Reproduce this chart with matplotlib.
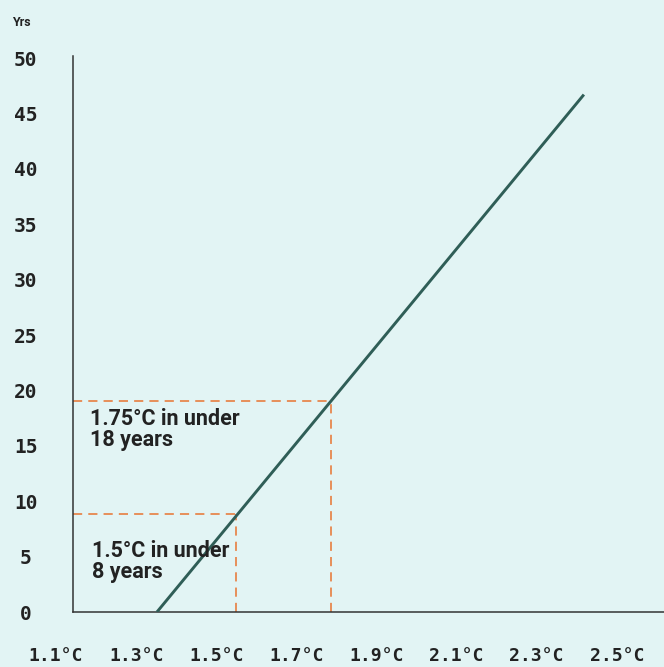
import matplotlib
matplotlib.use("Agg")
from matplotlib import pyplot as plt

# warming (°C) vs years
line_temp = [1.352, 2.418]
line_years = [0.0, 46.7]

# marked points for the two thresholds
mark_temp = [1.549, 1.786]
mark_years = [8.8, 19.0]
mark_text = ["1.5°C in under\n8 years", "1.75°C in under\n18 years"]

x_ticks = [1.1, 1.3, 1.5, 1.7, 1.9, 2.1, 2.3, 2.5]
x_labels = ["1.1°C", "1.3°C", "1.5°C", "1.7°C", "1.9°C", "2.1°C", "2.3°C", "2.5°C"]
y_ticks = [0, 5, 10, 15, 20, 25, 30, 35, 40, 45, 50]

bg = "#e2f4f4"
line_c = "#2f5e57"
dash_c = "#e8742f"
text_c = "#222222"
x_axis0 = 1.1424  # where the vertical axis sits
ann_font = "Roboto"

fig = plt.figure(figsize=(6.64, 6.67), dpi=100, facecolor=bg)
ax = fig.add_axes([40 / 664, 55 / 667, 624 / 664, 556.2 / 667])
ax.set_facecolor(bg)
ax.set_xlim(1.060, 2.618)
ax.set_ylim(0, 50.2)

ax.plot(line_temp, line_years, color=line_c, lw=2.1, solid_capstyle="butt", zorder=3)

# dashed guides
for t, y in zip(mark_temp, mark_years):
    ax.plot([x_axis0, t], [y, y], color=dash_c, lw=1.1, dashes=(6, 4), zorder=2)
    ax.plot([t, t], [0, y], color=dash_c, lw=1.1, dashes=(6, 4), zorder=2)

ax.text(1.19, 6.5, mark_text[0], fontsize=15.5, family=ann_font, weight="bold",
        color=text_c, va="top", ha="left", linespacing=0.95, zorder=4)
ax.text(1.185, 18.4, mark_text[1], fontsize=15.5, family=ann_font, weight="bold",
        color=text_c, va="top", ha="left", linespacing=0.95, zorder=4)

# axes styling
for s in ["top", "right"]:
    ax.spines[s].set_visible(False)
ax.spines["left"].set_position(("data", x_axis0))
ax.spines["left"].set_color("#333333")
ax.spines["bottom"].set_color("#333333")
ax.spines["left"].set_linewidth(1.1)
ax.spines["bottom"].set_linewidth(1.1)
ax.spines["bottom"].set_bounds(x_axis0, 2.618)

ax.set_xticks(x_ticks)
ax.set_xticklabels(x_labels, family="DejaVu Sans Mono", weight="bold",
                   fontsize=13, color=text_c)
ax.set_yticks(y_ticks)
ax.set_yticklabels([str(v) for v in y_ticks], family="DejaVu Sans Mono",
                   weight="bold", fontsize=14, color=text_c)
for lbl in ax.get_yticklabels():
    lbl.set_ha("center")
ax.tick_params(axis="x", length=0, pad=25)
ax.tick_params(axis="y", length=0, pad=34)

fig.text(12 / 664, 1 - 22 / 667, "Yrs", fontsize=9, family=ann_font, weight="bold",
         color=text_c, va="center", ha="left")

fig.savefig("out.png", dpi=100, facecolor=bg)
